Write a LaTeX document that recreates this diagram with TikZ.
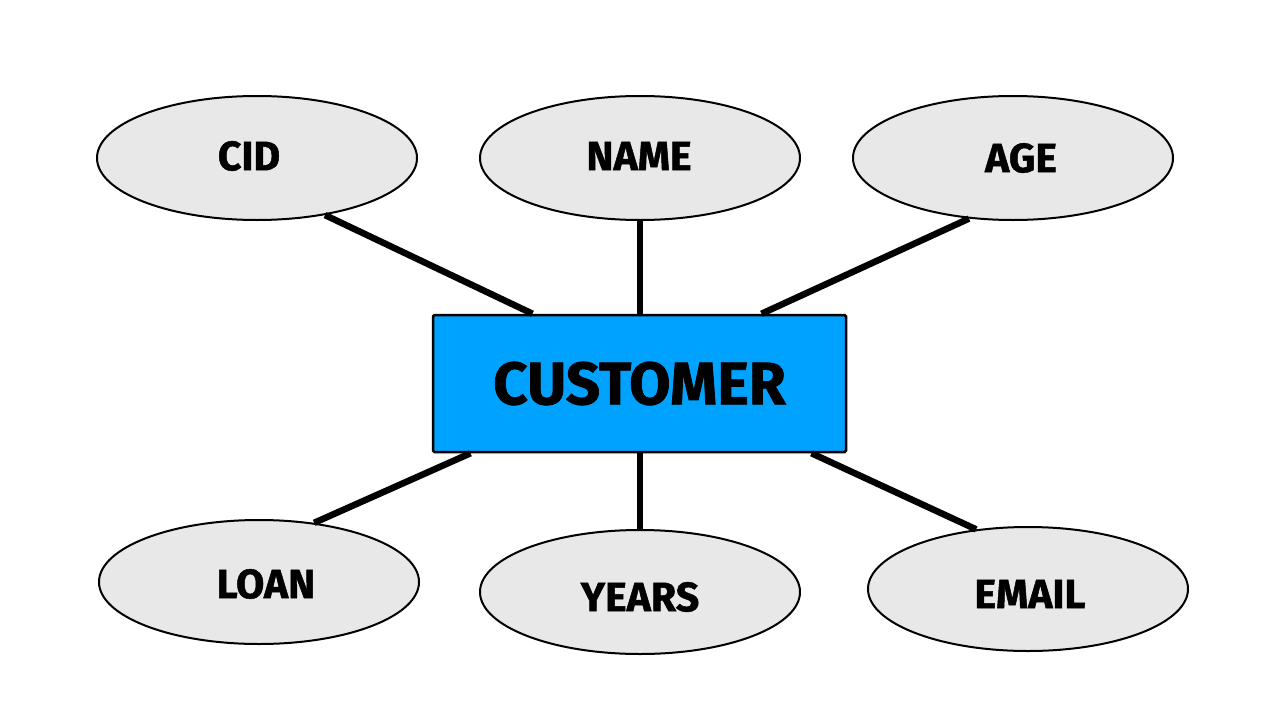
\documentclass[tikz,border=0pt]{standalone}
\usepackage{fontspec}
\setmainfont{Fira Sans}
\newfontfamily\heavyfont{Fira Sans}[UprightFont=*-Bold, BoldFont=*-Bold, FakeBold=1.2]
\usetikzlibrary{shapes.geometric,calc}
\definecolor{entblue}{HTML}{00A2FF}
\definecolor{attrgray}{HTML}{E8E8E8}
\tikzset{
  attr/.style={ellipse, draw=black, line width=2pt, fill=attrgray,
    minimum width=320pt, minimum height=124pt, inner sep=0pt},
  attrtext/.style={font=\heavyfont\bfseries\fontsize{41}{41}\selectfont, inner sep=0pt},
  entity/.style={rectangle, draw=black, line width=2.5pt, fill=entblue, rounded corners=1.5pt,
    minimum width=413pt, minimum height=137pt, inner sep=0pt,
    font=\heavyfont\bfseries\fontsize{60}{60}\selectfont},
  link/.style={line width=6.5pt, draw=black}
}
\begin{document}
\begin{tikzpicture}[x=1pt,y=-1pt]
\useasboundingbox (0,0) rectangle (1280,720);
\node[entity] (cust) at (639.5,383.5) {CUSTOMER};
\node[attr, label={[attrtext, shift={(-8,-2)}]center:CID}] (cid) at (257,158) {};
\node[attr, label={[attrtext, shift={(-1,-2)}]center:NAME}] (name) at (640,158) {};
\node[attr, label={[attrtext, shift={(8,0)}]center:AGE}] (age) at (1013,158) {};
\node[attr, label={[attrtext, shift={(7,2)}]center:LOAN}] (loan) at (259,582) {};
\node[attr, label={[attrtext, shift={(0,5)}]center:YEARS}] (years) at (640,592) {};
\node[attr, label={[attrtext, shift={(2,5)}]center:EMAIL}] (email) at (1028,589) {};
\draw[link] (cid.-40) -- ($(cust.north)+(-107,0)$);
\draw[link] (name.south) -- (name.south |- cust.north);
\draw[link] (age.-126) -- ($(cust.north)+(122,0)$);
\draw[link] (loan.47) -- ($(cust.south)+(-169,0)$);
\draw[link] (years.north) -- (years.north |- cust.south);
\draw[link] (email.131) -- ($(cust.south)+(172,0)$);
\end{tikzpicture}
\end{document}
